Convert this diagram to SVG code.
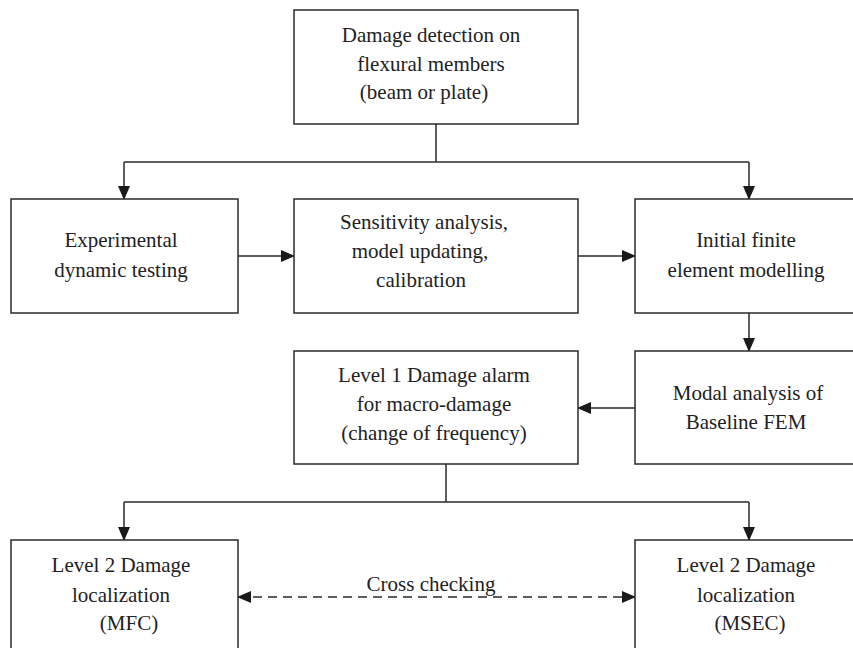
<svg xmlns="http://www.w3.org/2000/svg" width="853" height="648" viewBox="0 0 853 648">
<style>
.box{fill:#fff;stroke:#2a2a2a;stroke-width:1.5}
.t{font-family:"Liberation Serif","Times New Roman",serif;font-size:21px;fill:#222;text-anchor:middle}
.c{fill:none;stroke:#2a2a2a;stroke-width:1.5}
.d{stroke-dasharray:9 6}
</style>
<defs>
<marker id="ah" markerUnits="userSpaceOnUse" markerWidth="14" markerHeight="12" refX="13" refY="6" orient="auto-start-reverse" viewBox="0 0 14 12">
<path d="M0,0 L14,6 L0,12 Z" fill="#1a1a1a"/>
</marker>
</defs>
<g id="connectors">
<path class="c" d="M436,124 V162"/>
<path class="c" d="M124,162 H749"/>
<path class="c" d="M124,162 V199" marker-end="url(#ah)"/>
<path class="c" d="M749,162 V199" marker-end="url(#ah)"/>
<path class="c" d="M238,256 H294" marker-end="url(#ah)"/>
<path class="c" d="M578,256 H635" marker-end="url(#ah)"/>
<path class="c" d="M749,313 V351" marker-end="url(#ah)"/>
<path class="c" d="M635,408 H578" marker-end="url(#ah)"/>
<path class="c" d="M446,464 V502"/>
<path class="c" d="M124,502 H749"/>
<path class="c" d="M124,502 V540" marker-end="url(#ah)"/>
<path class="c" d="M749,502 V540" marker-end="url(#ah)"/>
<path class="c d" d="M238,597 H635" marker-start="url(#ah)" marker-end="url(#ah)"/>
<text class="t" x="431" y="591">Cross checking</text>
</g>
<g id="n1">
<rect class="box" x="294" y="10" width="284" height="114"/>
<text class="t" x="431" y="42">Damage detection on</text>
<text class="t" x="431" y="71">flexural members</text>
<text class="t" x="424" y="99">(beam or plate)</text>
</g>
<g id="n2">
<rect class="box" x="11" y="199" width="227" height="114"/>
<text class="t" x="121" y="247">Experimental</text>
<text class="t" x="121" y="277">dynamic testing</text>
</g>
<g id="n3">
<rect class="box" x="294" y="199" width="284" height="114"/>
<text class="t" x="424" y="229">Sensitivity analysis,</text>
<text class="t" x="420" y="258">model updating,</text>
<text class="t" x="421" y="287">calibration</text>
</g>
<g id="n4">
<rect class="box" x="635" y="199" width="230" height="114"/>
<text class="t" x="746" y="247">Initial finite</text>
<text class="t" x="746" y="277">element modelling</text>
</g>
<g id="n5">
<rect class="box" x="294" y="351" width="284" height="113"/>
<text class="t" x="434" y="382">Level 1 Damage alarm</text>
<text class="t" x="434" y="411">for macro-damage</text>
<text class="t" x="434" y="440">(change of frequency)</text>
</g>
<g id="n6">
<rect class="box" x="635" y="351" width="230" height="113"/>
<text class="t" x="748" y="400">Modal analysis of</text>
<text class="t" x="746" y="429">Baseline FEM</text>
</g>
<g id="n7">
<rect class="box" x="11" y="540" width="227" height="120"/>
<text class="t" x="121" y="572">Level 2 Damage</text>
<text class="t" x="121" y="602">localization</text>
<text class="t" x="129" y="630">(MFC)</text>
</g>
<g id="n8">
<rect class="box" x="635" y="540" width="230" height="120"/>
<text class="t" x="746" y="572">Level 2 Damage</text>
<text class="t" x="746" y="602">localization</text>
<text class="t" x="750" y="630">(MSEC)</text>
</g>
</svg>
